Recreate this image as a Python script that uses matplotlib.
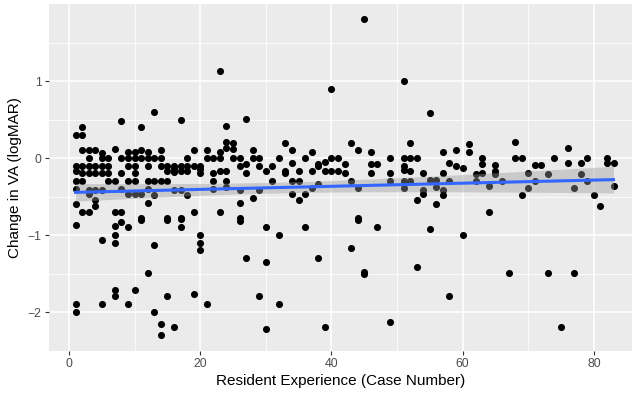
import numpy as np
import matplotlib
matplotlib.use("Agg")
import matplotlib.pyplot as plt

# ---- data: (case number, change in VA) ----
case_1_20 = ([1]*9 + [2]*7 + [3]*7 + [4]*6 + [5]*7 + [6]*4 + [7]*8 + [8]*6 + [9]*7 + [10]*7
             + [11]*6 + [12]*7 + [13]*6 + [14]*6 + [15]*6 + [16]*5 + [17]*7 + [18]*4 + [19]*4 + [20]*6)
va_1_20 = [0.3, -0.1, -0.17, -0.3, -0.4, -0.6, -0.87, -1.89, -2.0,
           0.4, 0.3, 0.1, -0.1, -0.2, -0.3, -0.7,
           0.1, 0.0, -0.1, -0.2, -0.42, -0.47, -0.7,
           0.1, -0.1, -0.2, -0.42, -0.55, -0.62,
           0.07, 0.0, -0.1, -0.2, -0.42, -1.06, -1.89,
           0.0, -0.1, -0.2, -0.3,
           0.12, -0.3, -0.7, -0.88, -1.0, -1.1, -1.71, -1.79,
           0.48, 0.0, -0.2, -0.4, -0.7, -0.83,
           0.08, 0.0, -0.1, -0.3, -0.47, -0.89, -1.9,
           0.08, 0.0, -0.1, -0.2, -0.3, -0.47, -1.71,
           0.4, 0.1, 0.0, -0.47, -0.78, -0.81,
           0.08, 0.0, -0.1, -0.3, -0.4, -0.59, -1.49,
           0.6, 0.0, -0.3, -0.48, -1.13, -2.0,
           0.1, 0.0, -0.1, -0.3, -2.16, -2.3,
           -0.1, -0.17, -0.3, -0.78, -0.81, -1.79,
           -0.1, -0.14, -0.18, -0.42, -2.2,
           0.49, -0.1, -0.17, -0.42, -0.78, -0.79, -0.89,
           0.0, -0.1, -0.17, -0.48,
           0.1, -0.1, -0.7, -1.77,
           -0.1, -0.14, -0.2, -1.0, -1.1, -1.19]

case_21_40 = ([21]*3 + [22]*4 + [23]*5 + [24]*6 + [25]*3 + [26]*6 + [27]*4 + [28]*3 + [29]*4 + [30]*4
              + [31]*2 + [32]*3 + [33]*3 + [34]*4 + [35]*3 + [36]*3 + [37]*3 + [38]*4 + [39]*3 + [40]*3)
va_21_40 = [0.1, 0.0, -1.89,
            0.0, -0.2, -0.3, -0.4,
            1.13, 0.08, 0.0, -0.17, -0.7,
            0.42, 0.21, 0.13, -0.17, -0.3, -0.38,
            0.19, 0.12, 0.0,
            0.0, -0.1, -0.42, -0.59, -0.78, -0.82,
            0.51, -0.08, -0.2, -1.3,
            0.1, 0.0, -0.52,
            0.0, -0.11, -0.41, -1.79,
            -0.17, -0.89, -1.35, -2.22,
            -0.1, -0.3,
            0.0, -1.0, -1.89,
            0.19, -0.17, -0.2,
            0.1, -0.07, -0.3, -0.47,
            -0.17, -0.3, -0.55,
            0.0, -0.47, -0.89,
            0.08, -0.17, -0.39,
            -0.08, -0.11, -0.34, -1.3,
            -0.05, -0.17, -2.2,
            0.89, 0.0, -0.17]

case_41_60 = ([41]*2 + [42]*2 + [43]*3 + [44]*4 + [45]*3 + [46]*3 + [47]*2 + [49]*4
              + [51]*6 + [52]*4 + [53]*3 + [54]*3 + [55]*3 + [56]*3 + [57]*4 + [58]*3 + [59]*2 + [60]*2)
va_41_60 = [0.0, -0.17,
            -0.08, -0.2,
            0.19, -0.3, -1.17,
            0.1, -0.39, -0.78, -0.81,
            1.8, -1.48, -1.5,
            0.08, -0.08, -0.2,
            -0.08, -0.9,
            0.0, -0.2, -0.3, -2.13,
            1.0, 0.0, -0.11, -0.16, -0.3, -0.39,
            0.19, 0.0, -0.17, -0.3,
            0.0, -0.54, -1.41,
            -0.2, -0.41, -0.47,
            0.59, -0.28, -0.92,
            -0.29, -0.38, -0.6,
            0.08, -0.2, -0.42, -0.48,
            -0.07, -0.3, -1.79,
            0.1, -0.1,
            -0.13, -1.0]

case_61_83 = ([61]*2 + [62]*2 + [63]*3 + [64]*2 + [65]*3 + [66]*1 + [67]*1 + [68]*2 + [69]*2 + [70]*2
              + [71]*2 + [72]*1 + [73]*2 + [74]*1 + [75]*1 + [76]*2 + [77]*2 + [78]*2 + [79]*2
              + [80]*1 + [81]*1 + [82]*2 + [83]*2)
va_61_83 = [0.18, 0.08,
            -0.21, -0.3,
            0.0, -0.08, -0.2,
            -0.36, -0.7,
            -0.09, -0.17, -0.21,
            -0.3,
            -1.49,
            0.21, 0.0,
            0.0, -0.48,
            -0.2, -0.39,
            -0.09, -0.3,
            -0.09,
            -0.21, -1.49,
            0.0,
            -2.2,
            0.13, -0.07,
            -0.39, -1.49,
            -0.07, -0.21,
            0.0, -0.3,
            -0.48,
            -0.62,
            0.0, -0.07,
            -0.07, -0.36]

x_ticks = [0, 20, 40, 60, 80]
y_ticks = [-2, -1, 0, 1]

x = np.array(case_1_20 + case_21_40 + case_41_60 + case_61_83, dtype=float)
y = np.array(va_1_20 + va_21_40 + va_41_60 + va_61_83, dtype=float)

plt.rcParams['font.family'] = ['Liberation Sans', 'DejaVu Sans']

W, H = 636, 393
fig = plt.figure(figsize=(W / 100, H / 100), dpi=100)
left_px, right_px, top_px, bot_px = 48.5, 632, 4, 351
ax = fig.add_axes([left_px / W, 1 - bot_px / H, (right_px - left_px) / W, (bot_px - top_px) / H])

ax.set_facecolor('#EBEBEB')
for s in ax.spines.values():
    s.set_visible(False)

ax.set_xlim(-3.125, 85.82)
ax.set_ylim(-2.506, 2.0)
ax.set_xticks(x_ticks)
ax.set_yticks(y_ticks)
ax.set_xticks([10, 30, 50, 70], minor=True)
ax.set_yticks([-1.5, -0.5, 0.5, 1.5], minor=True)
ax.set_yticklabels(['\u22122', '\u22121', '0', '1'])
ax.grid(which='major', color='white', linewidth=1.1)
ax.grid(which='minor', color='white', linewidth=0.55)
ax.set_axisbelow(True)
ax.tick_params(which='major', length=3, width=0.8, color='#333333', labelcolor='#4D4D4D',
               labelsize=8.8, pad=2)
ax.tick_params(which='minor', length=0)

# points
ax.scatter(x, y, s=26, color='black', linewidths=0, zorder=3)

# linear fit with 95% confidence band
n = len(x)
b1, b0 = np.polyfit(x, y, 1)
xs = np.linspace(x.min(), x.max(), 80)
ys = b0 + b1 * xs
resid = y - (b0 + b1 * x)
s_err = np.sqrt(np.sum(resid ** 2) / (n - 2))
t_val = 1.968
se = s_err * np.sqrt(1 / n + (xs - x.mean()) ** 2 / np.sum((x - x.mean()) ** 2))
ax.fill_between(xs, ys - t_val * se, ys + t_val * se, color='#999999', alpha=0.4, linewidth=0, zorder=4)
ax.plot(xs, ys, color='#3366FF', linewidth=2.2, zorder=5)

ax.set_xlabel('Resident Experience (Case Number)', fontsize=11, color='black', labelpad=3)
ax.set_ylabel('Change in VA (logMAR)', fontsize=11, color='black', labelpad=4)

fig.savefig('out.png', dpi=100)
